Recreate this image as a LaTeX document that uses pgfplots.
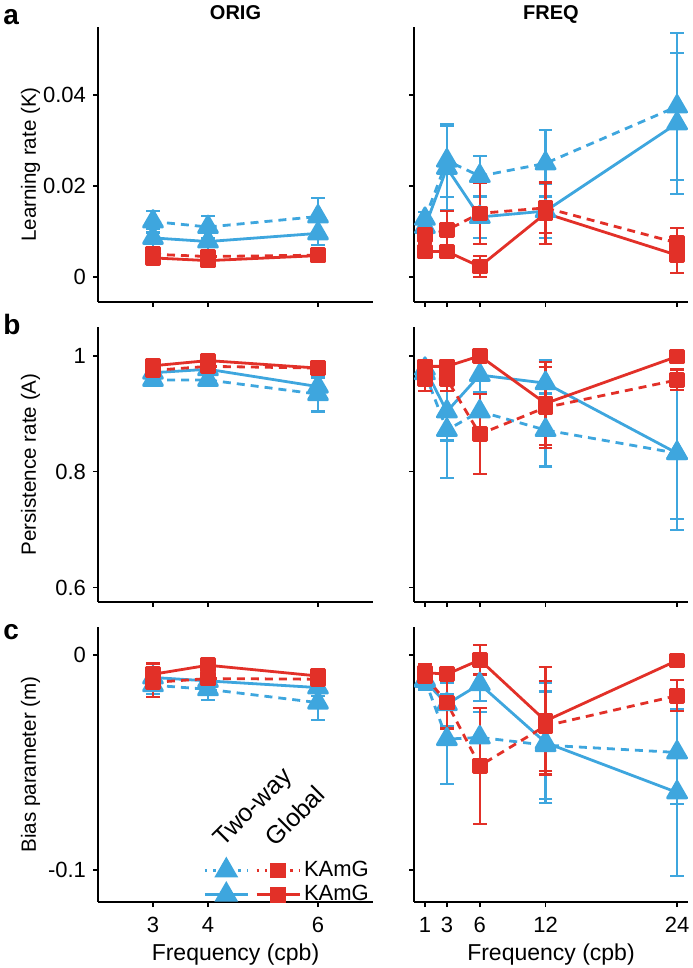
\documentclass[border=0pt]{standalone}
\usepackage{pgfplots}
\pgfplotsset{compat=1.18}
\usepackage{fontspec}
\setmainfont{Liberation Sans}
\definecolor{cblue}{RGB}{62,166,222}
\definecolor{cred}{RGB}{226,48,40}
\newcommand{\myFontLeg}{\fontsize{11}{12.5}\selectfont}
\newcommand{\myFontHead}{\fontsize{12.5}{14}\selectfont}
\newcommand{\myFontTick}{\fontsize{11}{13}\selectfont}
\newcommand{\myFontYl}{\fontsize{10.3}{12}\selectfont}
\newcommand{\myFontXl}{\fontsize{11.5}{13}\selectfont}
\newcommand{\myFontTitle}{\bfseries\fontsize{10}{12}\selectfont}
\newcommand{\myFontPanel}{\bfseries\fontsize{14}{16}\selectfont}
\pgfplotsset{
  base/.style={scale only axis, height=137.5pt, axis lines=left, font=\myFontLeg,
    axis line style={-, line width=0.75pt}, tick style={line width=0.75pt, black},
    major tick length=2.5pt, tick align=outside, clip=false,
    scaled y ticks=false, scaled x ticks=false,
    /pgf/number format/assume math mode=true,
    every tick label/.append style={font=\myFontTick},
    every axis y label/.style={at={(axis description cs:-0.245,0.5)}, rotate=90, anchor=center, font=\myFontYl},
    every axis x label/.style={at={(axis description cs:0.5,-0.212)}, anchor=base, font=\myFontXl},
    xticklabel style={yshift=-1.5pt}},
  origax/.style={base, width=137.5pt, xmin=2, xmax=7, xtick={3,4,6}},
  freqax/.style={base, width=137pt, xmin=0, xmax=25, xtick={1,3,6,12,24}},
  rowa/.style={ymin=-0.0055, ymax=0.055, ytick={0,0.02,0.04}, yticklabels={0,0.02,0.04}},
  rowb/.style={ymin=0.575, ymax=1.05, ytick={0.6,0.8,1}, yticklabels={0.6,0.8,1}},
  rowc/.style={ymin=-0.115, ymax=0.013, ytick={-0.1,0}, yticklabels={-0.1,0}},
  ser/.style={line width=1.4pt, line join=round,
    error bars/y dir=both, error bars/y explicit,
    error bars/error bar style={line width=1.1pt, solid},
    error bars/error mark options={rotate=90, mark size=3.4pt, line width=1.1pt, solid}},
  bd/.style={ser, color=cblue, dash pattern=on 4pt off 3pt, mark=triangle*, mark size=5.5pt, mark options={solid, fill=cblue, draw=cblue}},
  bs/.style={ser, color=cblue, mark=triangle*, mark size=5.5pt, mark options={solid, fill=cblue, draw=cblue}},
  rd/.style={ser, color=cred, dash pattern=on 4pt off 3pt, mark=square*, mark size=3.2pt, mark options={solid, fill=cred, draw=cred}},
  rs/.style={ser, color=cred, mark=square*, mark size=3.2pt, mark options={solid, fill=cred, draw=cred}},
}
\begin{document}
\begin{tikzpicture}
\useasboundingbox (0,0) rectangle (346pt,484pt);
\node[anchor=base west, font=\myFontPanel, inner sep=0pt] at (1.5pt,471.5pt) {a};
\node[anchor=base west, font=\myFontPanel, inner sep=0pt] at (1.5pt,316.5pt) {b};
\node[anchor=base west, font=\myFontPanel, inner sep=0pt] at (1.5pt,164pt) {c};

% ---------- Row a, ORIG
\begin{axis}[origax, rowa, at={(49pt,333pt)}, anchor=south west, xticklabel=\empty, ylabel={Learning rate (K)}]
\addplot[bd] coordinates {(3,0.0122) +- (0,0.0024) (4,0.0110) +- (0,0.0024) (6,0.0133) +- (0,0.0040)};
\addplot[bs] coordinates {(3,0.0086) +- (0,0.0020) (4,0.0078) +- (0,0.0020) (6,0.0096) +- (0,0.0025)};
\addplot[rd] coordinates {(3,0.0050) +- (0,0.0012) (4,0.0045) +- (0,0.0010) (6,0.0048) +- (0,0.0012)};
\addplot[rs] coordinates {(3,0.0042) +- (0,0.0010) (4,0.0036) +- (0,0.0010) (6,0.0047) +- (0,0.0010)};
\node[anchor=base, font=\myFontTitle, inner sep=0pt, yshift=3.5pt] at (rel axis cs:0.5,1) {ORIG};
\end{axis}
% ---------- Row a, FREQ
\begin{axis}[freqax, rowa, at={(207pt,333pt)}, anchor=south west, xticklabel=\empty, yticklabel=\empty]
\addplot[bd] coordinates {(1,0.0128) +- (0,0.0015) (3,0.0256) +- (0,0.0080) (6,0.0222) +- (0,0.0045) (12,0.0250) +- (0,0.0073) (24,0.0375) +- (0,0.0162)};
\addplot[bs] coordinates {(1,0.0110) +- (0,0.0015) (3,0.0240) +- (0,0.0093) (6,0.0132) +- (0,0.0047) (12,0.0145) +- (0,0.0060) (24,0.0338) +- (0,0.0155)};
\addplot[rd] coordinates {(1,0.0092) +- (0,0.0016) (3,0.0103) +- (0,0.0043) (6,0.0140) +- (0,0.0067) (12,0.0152) +- (0,0.0055) (24,0.0075) +- (0,0.0033)};
\addplot[rs] coordinates {(1,0.0056) +- (0,0.0010) (3,0.0056) +- (0,0.0010) (6,0.0023) +- (0,0.0023) (12,0.0140) +- (0,0.0068) (24,0.0048) +- (0,0.0040)};
\node[anchor=base, font=\myFontTitle, inner sep=0pt, yshift=3.5pt] at (rel axis cs:0.5,1) {FREQ};
\end{axis}

% ---------- Row b, ORIG
\begin{axis}[origax, rowb, at={(49pt,183pt)}, anchor=south west, xticklabel=\empty, ylabel={Persistence rate (A)}]
\addplot[bd] coordinates {(3,0.9585) +- (0,0.008) (4,0.9585) +- (0,0.010) (6,0.934) +- (0,0.030)};
\addplot[bs] coordinates {(3,0.971) +- (0,0.006) (4,0.977) +- (0,0.008) (6,0.947) +- (0,0.015)};
\addplot[rd] coordinates {(3,0.975) +- (0,0.005) (4,0.982) +- (0,0.005) (6,0.979) +- (0,0.005)};
\addplot[rs] coordinates {(3,0.983) +- (0,0.006) (4,0.992) +- (0,0.006) (6,0.979) +- (0,0.006)};
\end{axis}
% ---------- Row b, FREQ
\begin{axis}[freqax, rowb, at={(207pt,183pt)}, anchor=south west, xticklabel=\empty, yticklabel=\empty]
\addplot[bd] coordinates {(1,0.970) +- (0,0.010) (3,0.872) +- (0,0.083) (6,0.904) +- (0,0.030) (12,0.872) +- (0,0.063) (24,0.832) +- (0,0.114)};
\addplot[bs] coordinates {(1,0.978) +- (0,0.010) (3,0.904) +- (0,0.050) (6,0.967) +- (0,0.030) (12,0.953) +- (0,0.040) (24,0.832) +- (0,0.133)};
\addplot[rd] coordinates {(1,0.960) +- (0,0.020) (3,0.960) +- (0,0.020) (6,0.865) +- (0,0.069) (12,0.911) +- (0,0.070) (24,0.9585) +- (0,0.018)};
\addplot[rs] coordinates {(1,0.982) +- (0,0.008) (3,0.982) +- (0,0.008) (6,1.000) +- (0,0.006) (12,0.918) +- (0,0.072) (24,0.999) +- (0,0.004)};
\end{axis}

% ---------- Row c, ORIG
\begin{axis}[origax, rowc, at={(49pt,33pt)}, anchor=south west, ylabel={Bias parameter (m)}, xlabel={Frequency (cpb)},
  legend columns=2,
  legend style={draw=none, fill=none, at={(0.36,0.175)}, anchor=north west, font=\myFontLeg,
    nodes={inner sep=1.5pt}, row sep=0pt, /tikz/every odd column/.append style={column sep=0pt}},
  legend image code/.code={\draw[#1] (0pt,0pt) -- (21.5pt,0pt); \draw[#1, solid] plot coordinates {(10.75pt,0pt)};}]
\addplot[bd, forget plot] coordinates {(3,-0.0141) +- (0,0.004) (4,-0.0160) +- (0,0.005) (6,-0.0222) +- (0,0.008)};
\addplot[bs, forget plot] coordinates {(3,-0.0105) +- (0,0.004) (4,-0.0121) +- (0,0.004) (6,-0.0152) +- (0,0.004)};
\addplot[rd, forget plot] coordinates {(3,-0.0128) +- (0,0.0066) (4,-0.0110) +- (0,0.004) (6,-0.0113) +- (0,0.004)};
\addplot[rs, forget plot] coordinates {(3,-0.0090) +- (0,0.005) (4,-0.0048) +- (0,0.003) (6,-0.0098) +- (0,0.003)};
\addlegendimage{color=cblue, line width=1.4pt, dash pattern=on 1.2pt off 3pt, mark=triangle*, mark size=5.5pt, mark options={solid}}
\addlegendentry{}
\addlegendimage{color=cred, line width=1.4pt, dash pattern=on 1.2pt off 3pt, mark=square*, mark size=3.2pt, mark options={solid}}
\addlegendentry{KAmG}
\addlegendimage{color=cblue, line width=1.4pt, mark=triangle*, mark size=5.5pt}
\addlegendentry{}
\addlegendimage{color=cred, line width=1.4pt, mark=square*, mark size=3.2pt}
\addlegendentry{KAmG}
\node[rotate=45, anchor=base west, font=\myFontHead, inner sep=0pt] at (rel axis cs:0.455,0.197) {Two-way};
\node[rotate=45, anchor=base west, font=\myFontHead, inner sep=0pt] at (rel axis cs:0.645,0.197) {Global};
\end{axis}
% ---------- Row c, FREQ
\begin{axis}[freqax, rowc, at={(207pt,33pt)}, anchor=south west, yticklabel=\empty, xlabel={Frequency (cpb)}]
\addplot[bd] coordinates {(1,-0.0115) +- (0,0.003) (3,-0.0392) +- (0,0.021) (6,-0.0384) +- (0,0.012) (12,-0.0420) +- (0,0.025) (24,-0.0454) +- (0,0.024)};
\addplot[bs] coordinates {(1,-0.0121) +- (0,0.004) (3,-0.0229) +- (0,0.010) (6,-0.0136) +- (0,0.008) (12,-0.0408) +- (0,0.028) (24,-0.0640) +- (0,0.039)};
\addplot[rd] coordinates {(1,-0.0098) +- (0,0.004) (3,-0.0222) +- (0,0.012) (6,-0.0516) +- (0,0.027) (12,-0.0330) +- (0,0.021) (24,-0.0190) +- (0,0.0072)};
\addplot[rs] coordinates {(1,-0.0082) +- (0,0.004) (3,-0.0090) +- (0,0.003) (6,-0.0023) +- (0,0.0068) (12,-0.0307) +- (0,0.025) (24,-0.0026) +- (0,0.002)};
\end{axis}
\end{tikzpicture}
\end{document}
